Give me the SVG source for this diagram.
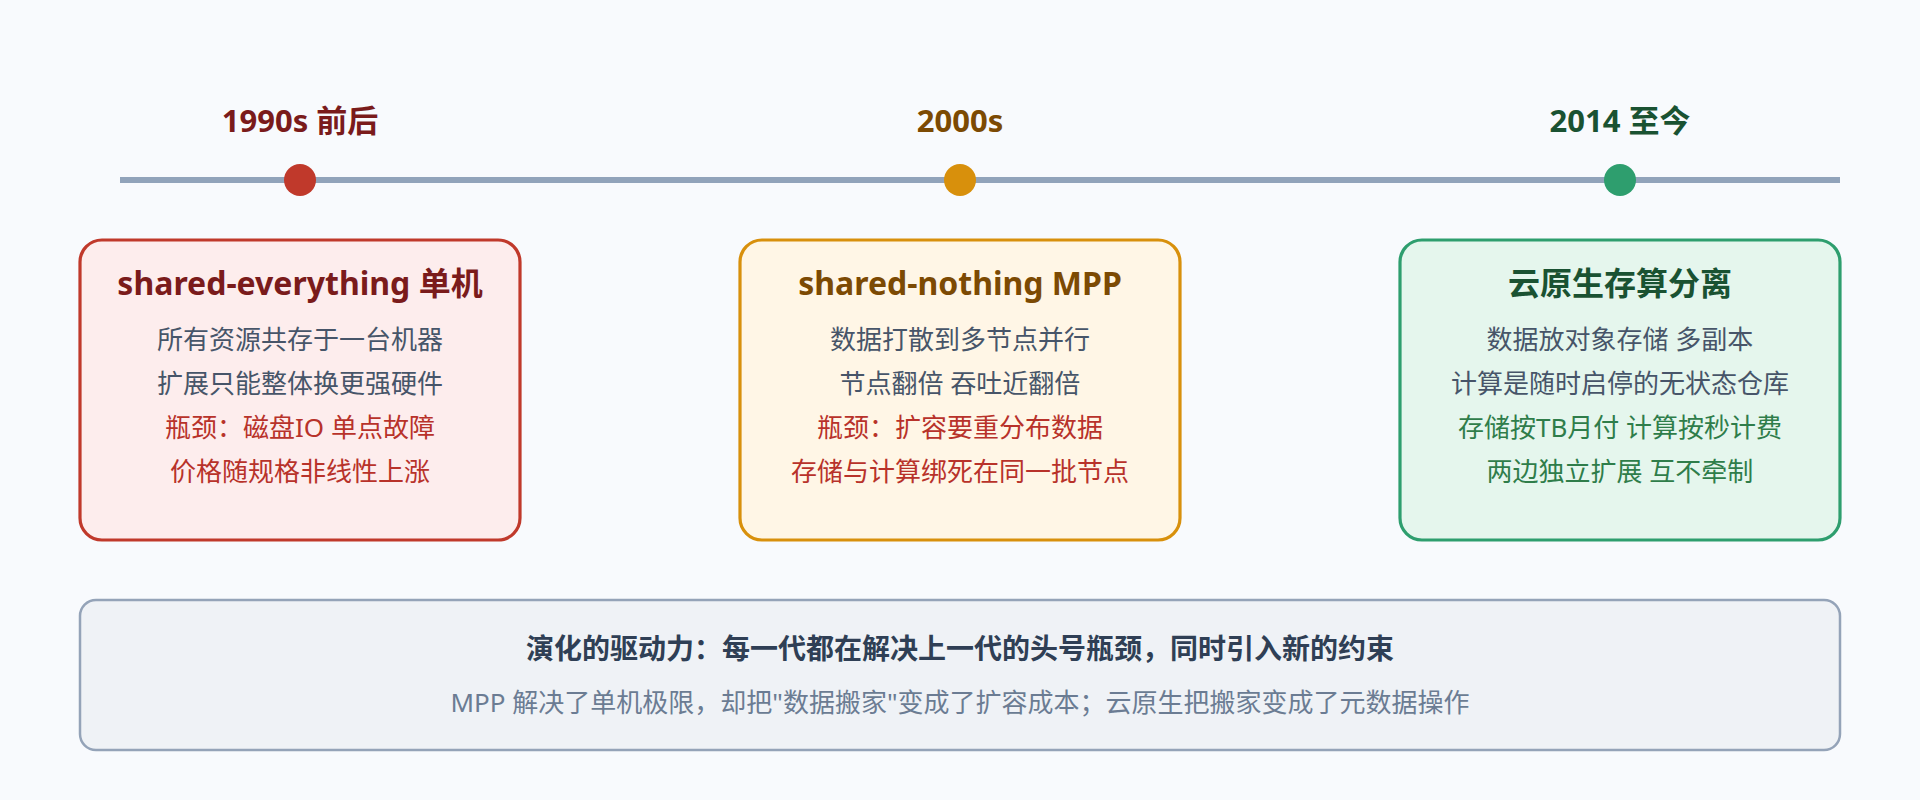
<svg xmlns="http://www.w3.org/2000/svg" width="1920" height="800" viewBox="0 0 1920 800">
<style>
text{font-family:"Noto Sans","Noto Sans CJK SC",sans-serif;text-anchor:middle}
.yr{font-size:31px;font-weight:700}
.ttl{font-size:32px;font-weight:700}
.body{font-size:26px}
.slate{fill:#475569}
.red{fill:#b8322a}
.grn{fill:#2f7d4a}
.card{stroke-width:3.2}
</style>
<rect width="1920" height="800" fill="#f8fafd"/>
<g id="timeline">
<line x1="120" y1="180" x2="1840" y2="180" stroke="#91a3ba" stroke-width="6"/>
<circle cx="300" cy="180" r="16" fill="#c0392b"/>
<circle cx="960" cy="180" r="16" fill="#d8900c"/>
<circle cx="1620" cy="180" r="16" fill="#2e9e6e"/>
<text class="yr" x="300" y="132" fill="#7a1b1b">1990s 前后</text>
<text class="yr" x="960" y="132" fill="#7c4a03">2000s</text>
<text class="yr" x="1620" y="132" fill="#1a5232">2014 至今</text>
</g>
<g id="node-shared-everything">
<rect class="card" x="80" y="240" width="440" height="300" rx="22" fill="#fdeded" stroke="#c0392b"/>
<text class="ttl" x="300" y="295" fill="#7a1b1b">shared-everything 单机</text>
<text class="body slate" x="300" y="349">所有资源共存于一台机器</text>
<text class="body slate" x="300" y="393">扩展只能整体换更强硬件</text>
<text class="body red" x="300" y="437">瓶颈：磁盘IO 单点故障</text>
<text class="body red" x="300" y="481">价格随规格非线性上涨</text>
</g>
<g id="node-shared-nothing">
<rect class="card" x="740" y="240" width="440" height="300" rx="22" fill="#fff6e6" stroke="#d8900c"/>
<text class="ttl" x="960" y="295" fill="#7c4a03">shared-nothing MPP</text>
<text class="body slate" x="960" y="349">数据打散到多节点并行</text>
<text class="body slate" x="960" y="393">节点翻倍 吞吐近翻倍</text>
<text class="body red" x="960" y="437">瓶颈：扩容要重分布数据</text>
<text class="body red" x="960" y="481">存储与计算绑死在同一批节点</text>
</g>
<g id="node-cloud-native">
<rect class="card" x="1400" y="240" width="440" height="300" rx="22" fill="#e5f6ed" stroke="#2e9e6e"/>
<text class="ttl" x="1620" y="295" fill="#1a5232">云原生存算分离</text>
<text class="body slate" x="1620" y="349">数据放对象存储 多副本</text>
<text class="body slate" x="1620" y="393">计算是随时启停的无状态仓库</text>
<text class="body grn" x="1620" y="437">存储按TB月付 计算按秒计费</text>
<text class="body grn" x="1620" y="481">两边独立扩展 互不牵制</text>
</g>
<g id="node-summary">
<rect x="80" y="600" width="1760" height="150" rx="16" fill="#eff2f6" stroke="#94a3b8" stroke-width="2.5"/>
<text x="960" y="659" font-size="28" font-weight="700" fill="#2f3f55">演化的驱动力：每一代都在解决上一代的头号瓶颈，同时引入新的约束</text>
<text x="960" y="712" font-size="26" fill="#6b7c93">MPP 解决了单机极限，却把"数据搬家"变成了扩容成本；云原生把搬家变成了元数据操作</text>
</g>
<g id="connectors"></g>
</svg>
